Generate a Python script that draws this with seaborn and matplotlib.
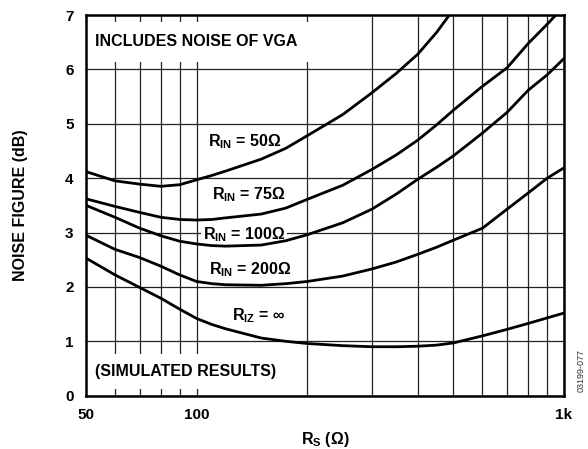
import numpy as np
import pandas as pd
import matplotlib
matplotlib.use("Agg")
import matplotlib.pyplot as plt
import seaborn as sns

# Source resistance (ohms) and simulated noise figure (dB) per input termination
rs = [50, 60, 70, 80, 90, 100, 110, 120, 150, 175, 200, 250, 300, 350, 400, 450, 500,
      600, 700, 800, 900, 1000]
nf_rin_50 = [4.12, 3.95, 3.89, 3.85, 3.88, 3.97, 4.05, 4.13, 4.35, 4.55, 4.78, 5.17,
             5.57, 5.93, 6.28, 6.68, 7.10]
nf_rin_75 = [3.62, 3.48, 3.37, 3.28, 3.24, 3.23, 3.24, 3.27, 3.34, 3.45, 3.61, 3.87,
             4.16, 4.43, 4.70, 4.98, 5.25, 5.69, 6.03, 6.48, 6.83, 7.16]
nf_rin_100 = [3.50, 3.28, 3.08, 2.94, 2.84, 2.79, 2.76, 2.75, 2.77, 2.85, 2.96, 3.18,
              3.43, 3.71, 3.98, 4.20, 4.41, 4.83, 5.21, 5.62, 5.90, 6.20]
nf_rin_200 = [2.95, 2.69, 2.54, 2.38, 2.22, 2.10, 2.06, 2.04, 2.03, 2.06, 2.10, 2.20,
              2.33, 2.46, 2.60, 2.73, 2.86, 3.08, 3.43, 3.73, 4.00, 4.19]
nf_riz_inf = [2.53, 2.22, 1.99, 1.79, 1.59, 1.42, 1.31, 1.23, 1.06, 1.00, 0.96, 0.92,
              0.90, 0.90, 0.91, 0.93, 0.97, 1.10, 1.22, 1.33, 1.43, 1.52]

series = [nf_rin_50, nf_rin_75, nf_rin_100, nf_rin_200, nf_riz_inf]

curve_labels = [r"$R_{IN}$ = 50Ω", r"$R_{IN}$ = 75Ω", r"$R_{IN}$ = 100Ω",
                r"$R_{IN}$ = 200Ω", r"$R_{IZ}$ = ∞"]
label_xy = [(107.5, 4.68), (110, 3.69), (104, 2.96), (108, 2.31), (124.8, 1.47)]

x_major = [50, 100, 1000]
x_major_labels = ["50", "100", "1k"]
x_minor = [60, 70, 80, 90, 200, 300, 400, 500, 600, 700, 800, 900]
y_ticks = [0, 1, 2, 3, 4, 5, 6, 7]

sns.set_style("white")
plt.rcParams["font.family"] = ["Liberation Sans", "DejaVu Sans"]
plt.rcParams["font.weight"] = "bold"
plt.rcParams["text.color"] = "black"
plt.rcParams["axes.labelcolor"] = "black"
plt.rcParams["xtick.color"] = "black"
plt.rcParams["ytick.color"] = "black"
plt.rcParams["mathtext.fontset"] = "custom"
plt.rcParams["mathtext.rm"] = "Liberation Sans:bold"
plt.rcParams["mathtext.it"] = "Liberation Sans:bold"
plt.rcParams["mathtext.bf"] = "Liberation Sans:bold"

fig = plt.figure(figsize=(5.88, 4.49), dpi=100)
ax = fig.add_axes([86 / 588, 1 - 395.7 / 449, (564 - 86) / 588, (395.7 - 15) / 449])

for vals in series:
    df = pd.DataFrame({"rs": rs[:len(vals)], "nf": vals})
    sns.lineplot(data=df, x="rs", y="nf", ax=ax, color="black", linewidth=2.0,
                 zorder=3, sort=False, estimator=None)

ax.set_xscale("log")
ax.set_xlim(50, 1000)
ax.set_ylim(0, 7)
ax.set_xticks(x_major)
ax.set_xticklabels(x_major_labels)
ax.set_xticks(x_minor, minor=True)
ax.xaxis.set_minor_formatter(matplotlib.ticker.NullFormatter())
ax.set_yticks(y_ticks)
ax.tick_params(which="both", length=0, labelsize=11, labelcolor="black")
ax.tick_params(axis="x", pad=9)
ax.tick_params(axis="y", pad=9)
for lab in ax.get_xticklabels() + ax.get_yticklabels():
    lab.set_fontweight("bold")

ax.grid(True, which="both", color="#222222", linewidth=0.9)
ax.set_axisbelow(True)
for sp in ax.spines.values():
    sp.set_visible(True)
    sp.set_color("black")
    sp.set_linewidth(1.8)
    sp.set_zorder(5)

ax.set_xlabel(r"$R_S$ (Ω)", fontsize=11.5, fontweight="bold", color="black")
ax.set_ylabel("NOISE FIGURE (dB)", fontsize=11.5, fontweight="bold", color="black")
ax.xaxis.set_label_coords(0.5, -0.09)
ax.yaxis.set_label_coords(-0.121, 0.5)

for text, (lx, ly) in zip(curve_labels, label_xy):
    ax.text(lx, ly, text, ha="left", va="center", fontsize=11.5, fontweight="bold",
            color="black", zorder=2.5,
            bbox=dict(boxstyle="square,pad=0.12", facecolor="white", edgecolor="none"))

ax.text(52.9, 6.51, "INCLUDES NOISE OF VGA", ha="left", va="center", fontsize=11.5,
        fontweight="bold", color="black", zorder=2.5,
        bbox=dict(boxstyle="square,pad=0.79", facecolor="white", edgecolor="none"))
ax.text(52.9, 0.45, "(SIMULATED RESULTS)", ha="left", va="center", fontsize=11.5,
        fontweight="bold", color="black", zorder=2.5,
        bbox=dict(boxstyle="square,pad=0.64", facecolor="white", edgecolor="none"))

fig.text(581.5 / 588, 1 - 370 / 449, "03199-077", rotation=90, ha="center", va="center",
         fontsize=6.5, fontweight="normal", color="#333333")

fig.savefig("out.png", dpi=100)
